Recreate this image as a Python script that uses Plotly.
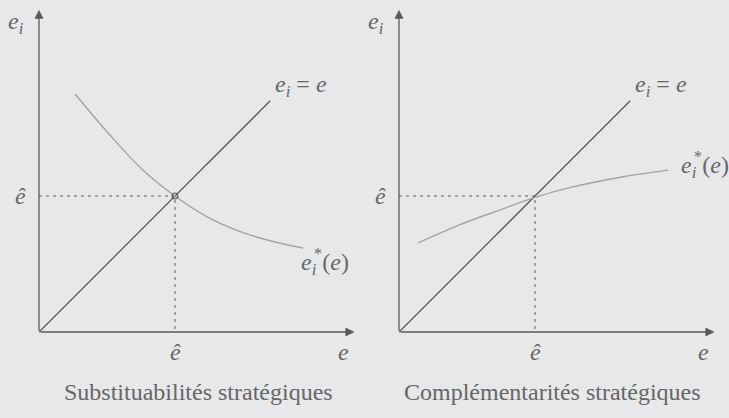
import plotly.graph_objects as go

# Equilibrium effort level (ê) normalised to 1 in both panels
E_HAT = 1.0

# 45-degree line e_i = e
diag_x = [0.0, 1.70]
diag_y = [0.0, 1.70]

# Best response e_i*(e) with strategic substitutes (decreasing)
subst_x = [0.265, 0.52, 0.765, 1.00, 1.24, 1.49, 1.735, 1.94]
subst_y = [1.75, 1.45, 1.19, 1.00, 0.845, 0.735, 0.662, 0.618]

# Best response e_i*(e) with strategic complements (increasing)
compl_x = [0.14, 0.45, 0.75, 1.00, 1.27, 1.64, 1.98]
compl_y = [0.655, 0.79, 0.90, 0.99, 1.065, 1.14, 1.19]

# Axis extents (arrow tips)
X_TIP = 2.32
Y_TIP = 2.37

captions = ["Substituabilités stratégiques", "Complémentarités stratégiques"]

BG = "#e7e8ea"
AXIS_COL = "#5a5a5a"
CURVE_COL = "#a3a3a3"
TEXT_COL = "#666666"
FONT = "Liberation Serif"
MATH_SIZE = 24
CAPTION_SIZE = 24

fig = go.Figure()

panels = [
    dict(xa="x", ya="y", curve_x=subst_x, curve_y=subst_y, caption=captions[0], cap_x=1.17),
    dict(xa="x2", ya="y2", curve_x=compl_x, curve_y=compl_y, caption=captions[1], cap_x=1.125),
]

annotations = []
for i, p in enumerate(panels):
    xa, ya = p["xa"], p["ya"]
    # dotted guides to the equilibrium point
    fig.add_trace(go.Scatter(x=[0, E_HAT, E_HAT], y=[E_HAT, E_HAT, 0], mode="lines",
                             line=dict(color=AXIS_COL, width=1, dash="3px,4px"),
                             xaxis=xa, yaxis=ya, hoverinfo="skip"))
    # 45-degree line
    fig.add_trace(go.Scatter(x=diag_x, y=diag_y, mode="lines",
                             line=dict(color=AXIS_COL, width=1.3),
                             xaxis=xa, yaxis=ya, hoverinfo="skip"))
    # best-response curve
    fig.add_trace(go.Scatter(x=p["curve_x"], y=p["curve_y"], mode="lines",
                             line=dict(color=CURVE_COL, width=1.4, shape="spline", smoothing=1.0),
                             xaxis=xa, yaxis=ya, hoverinfo="skip"))
    if i == 0:
        fig.add_trace(go.Scatter(x=[E_HAT], y=[E_HAT], mode="markers",
                                 marker=dict(symbol="circle-open", size=6, color=AXIS_COL,
                                             line=dict(width=1.2, color=AXIS_COL)),
                                 xaxis=xa, yaxis=ya, hoverinfo="skip"))

    # axes with arrowheads
    for tip, tail in [((X_TIP, 0), (0, 0)), ((0, Y_TIP), (0, 0))]:
        annotations.append(dict(x=tip[0], y=tip[1], ax=tail[0], ay=tail[1],
                                xref=xa, yref=ya, axref=xa, ayref=ya,
                                showarrow=True, arrowhead=2, arrowsize=1.4,
                                arrowwidth=1.3, arrowcolor=AXIS_COL, text=""))

    def txt(x, y, s, size=MATH_SIZE, xanchor="center"):
        annotations.append(dict(x=x, y=y, xref=xa, yref=ya, text=s, showarrow=False,
                                xanchor=xanchor, yanchor="middle",
                                font=dict(family=FONT, size=size, color=TEXT_COL)))

    txt(-0.17, 2.27, "<i>e</i><sub><i>i</i></sub>")
    txt(-0.135, E_HAT, "<i>ê</i>")
    txt(E_HAT, -0.15, "<i>ê</i>")
    txt(2.24, -0.15, "<i>e</i>")
    txt(1.72, 1.81, "<i>e</i><sub><i>i</i></sub> = <i>e</i>", xanchor="left")
    txt(p["cap_x"], -0.44, p["caption"], size=CAPTION_SIZE)

# best-response labels: e_i*(e) with the star stacked above the subscript
br_label = "<i>e</i><sub><i>i</i></sub> (<i>e</i>)"
for xa, ya, x0, y0 in [("x", "y", 1.91, 0.50), ("x2", "y2", 2.06, 1.21)]:
    annotations.append(dict(x=x0, y=y0, xref=xa, yref=ya, text=br_label, showarrow=False,
                            xanchor="left", yanchor="middle",
                            font=dict(family=FONT, size=MATH_SIZE, color=TEXT_COL)))
    annotations.append(dict(x=x0, y=y0, xref=xa, yref=ya, text="*", showarrow=False,
                            xanchor="left", yanchor="middle", xshift=13, yshift=11,
                            font=dict(family=FONT, size=16, color=TEXT_COL)))

SCALE = 136.0
W, H = 729, 418
# pixel positions of the origins
ox1, ox2, oy = 39, 399, 332

def xrange(domain, ox):
    left = domain[0] * W
    right = domain[1] * W
    return [(left - ox) / SCALE, (right - ox) / SCALE]

yr = [-(H - oy) / SCALE, oy / SCALE]
d1, d2 = [0, 0.5], [0.5, 1]

axis_common = dict(visible=False, showgrid=False, zeroline=False, fixedrange=True)
fig.update_layout(
    width=W, height=H, margin=dict(l=0, r=0, t=0, b=0),
    paper_bgcolor=BG, plot_bgcolor=BG, showlegend=False,
    font=dict(family=FONT, color=TEXT_COL),
    xaxis=dict(domain=d1, range=xrange(d1, ox1), **axis_common),
    yaxis=dict(domain=[0, 1], range=yr, **axis_common),
    xaxis2=dict(domain=d2, range=xrange(d2, ox2), anchor="y2", **axis_common),
    yaxis2=dict(domain=[0, 1], range=yr, anchor="x2", **axis_common),
    annotations=annotations,
)

fig.write_html("out.html")
